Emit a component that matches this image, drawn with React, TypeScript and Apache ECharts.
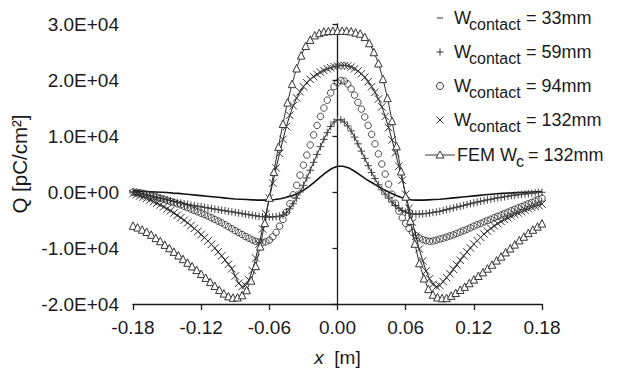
import React, { useEffect, useRef } from 'react';
import * as echarts from 'echarts';

// x positions: series sampled from X_START with a fixed step
const X_START = -0.18;
const DENSE_STEP = 0.003; // +, o, x series
const FEM_STEP = 0.004; // FEM triangles
const LINE_STEP = 0.005; // 33mm dash series

const X_MIN = -0.18;
const X_MAX = 0.18;
const X_INTERVAL = 0.06;
const Y_MIN = -20000;
const Y_MAX = 30000;
const Y_INTERVAL = 10000;

const W33 = [
  200, 150, 100, 50, 0, -50, -100, -200, -250, -350, -450, -550, -650, -750, -850, -950, -1050, -1150,
  -1250, -1300, -1350, -1400, -1450, -1450, -1450, -1350, -1200, -950, -650, -250, 300, 1000, 1800, 2700,
  3500, 4200, 4600, 4600, 4300, 3700, 3000, 2300, 1700, 1100, 500, 0, -500, -900, -1200, -1400, -1450,
  -1450, -1400, -1350, -1300, -1200, -1100, -1000, -900, -800, -700, -600, -500, -400, -300, -250, -200,
  -150, -100, -50, 0, 50, 100,
];

const W59 = [
  0, -100, -200, -350, -500, -650, -800, -950, -1100, -1250, -1400, -1550, -1700, -1850, -1950, -2100,
  -2200, -2350, -2450, -2550, -2650, -2750, -2850, -2950, -3050, -3150, -3250, -3350, -3450, -3550, -3650,
  -3750, -3850, -3950, -4050, -4150, -4250, -4350, -4400, -4450, -4450, -4450, -4400, -4300, -4100, -3700,
  -3000, -2100, -1100, 0, 1200, 2500, 3900, 5300, 6700, 8100, 9400, 10600, 11700, 12500, 12900, 12900,
  12500, 11800, 10900, 9800, 8600, 7300, 6000, 4700, 3500, 2400, 1300, 400, -400, -1100, -1800, -2400,
  -2900, -3300, -3600, -3800, -3900, -3950, -3950, -3900, -3850, -3750, -3650, -3550, -3450, -3300, -3150,
  -3000, -2850, -2700, -2550, -2400, -2250, -2100, -1950, -1800, -1650, -1550, -1400, -1300, -1150, -1050,
  -950, -850, -750, -650, -550, -500, -400, -350, -300, -200, -150, -100, -50,
];

const W94 = [
  0, -50, -150, -250, -400, -550, -700, -900, -1100, -1300, -1500, -1700, -1900, -2100, -2300, -2550,
  -2800, -3050, -3300, -3550, -3800, -4050, -4300, -4600, -4900, -5200, -5500, -5850, -6200, -6550, -6900,
  -7250, -7600, -7950, -8250, -8550, -8800, -8950, -9000, -8900, -8600, -8000, -7200, -6100, -4900, -3600,
  -2100, -500, 1200, 3000, 4800, 6600, 8400, 10200, 11900, 13500, 15000, 16400, 17700, 18800, 19500, 19900,
  19800, 19300, 18400, 17300, 16000, 14800, 13400, 11900, 10300, 8600, 6800, 5000, 3200, 1400, -400, -2000,
  -3400, -4600, -5600, -6500, -7200, -7800, -8200, -8500, -8700, -8800, -8750, -8600, -8400, -8250, -8050,
  -7850, -7650, -7400, -7150, -6900, -6650, -6400, -6100, -5850, -5600, -5350, -5100, -4850, -4600, -4350,
  -4100, -3850, -3600, -3350, -3100, -2850, -2600, -2350, -2100, -1850, -1600, -1350, -1100,
];

const W132 = [
  -300, -500, -700, -900, -1150, -1400, -1700, -2000, -2300, -2650, -3000, -3350, -3750, -4150, -4600,
  -5050, -5500, -6000, -6500, -7050, -7600, -8150, -8750, -9350, -10000, -10700, -11400, -12150, -12900,
  -13700, -15000, -16300, -16900, -16700, -15700, -14000, -11800, -9300, -6600, -3900, -1100, 1600, 4300,
  6900, 9400, 11700, 13700, 15400, 16800, 17900, 18800, 19500, 20100, 20600, 21000, 21400, 21700, 22000,
  22200, 22400, 22500, 22600, 22600, 22500, 22300, 22000, 21600, 21100, 20500, 19700, 18800, 17800, 16600,
  15200, 13500, 11500, 9300, 7000, 4600, 2100, -400, -2900, -5400, -7900, -10200, -12300, -14100, -15500,
  -16500, -16900, -16700, -16000, -15300, -14600, -13800, -13000, -12200, -11400, -10700, -10000, -9300,
  -8700, -8100, -7500, -7000, -6500, -6050, -5650, -5250, -4900, -4600, -4300, -4000, -3750, -3500, -3250,
  -3000, -2750, -2550, -2350, -2150,
];

const FEM132 = [
  -6000, -6300, -6700, -7100, -7600, -8200, -8750, -9400, -10000, -10650, -11300, -11950, -12600, -13250,
  -13900, -14600, -15300, -16050, -16750, -17450, -18100, -18600, -18850, -18800, -18400, -17500, -15800,
  -13200, -9700, -5500, -1000, 3600, 8100, 12200, 16000, 19300, 22100, 24400, 26100, 27200, 28000, 28400,
  28650, 28750, 28800, 28800, 28800, 28800, 28700, 28500, 28300, 27700, 26600, 25000, 23000, 20200, 16800,
  12700, 8200, 3700, -800, -5100, -9200, -12700, -15400, -17300, -18300, -18800, -18950, -18900, -18500,
  -18000, -17450, -16900, -16250, -15600, -14950, -14300, -13650, -12950, -12200, -11500, -10750, -10050,
  -9350, -8600, -7950, -7300, -6700, -6150, -5600,
];

const LEGEND_VALUES = ['= 33mm', '= 59mm', '= 94mm', '= 132mm', '= 132mm'];

const FONT = '"Liberation Sans", Arial, Helvetica, sans-serif';
const INK = '#1a1a1a';

const toPairs = (vals: number[], step: number) =>
  vals.map((v, i) => [Number((X_START + i * step).toFixed(4)), v]);

const PLUS = 'path://M0,5L10,5M5,0L5,10';
const CROSS = 'path://M0,0L10,10M10,0L0,10';

export default function App() {
  const ref = useRef<HTMLDivElement>(null);
  useEffect(() => {
    if (!ref.current) return;
    const chart = echarts.init(ref.current, undefined, { renderer: 'svg' });

    const rowY = [18, 52, 86, 120, 155];
    const symX = 440;
    const graphics: any[] = [];
    const txt = (text: string, x: number, y: number, size: number) => ({
      type: 'text',
      x,
      y,
      silent: true,
      style: { text, fontSize: size, fontFamily: FONT, fill: INK, align: 'left', verticalAlign: 'middle' },
    });
    const ln = (x1: number, y1: number, x2: number, y2: number) => ({
      type: 'line',
      silent: true,
      shape: { x1, y1, x2, y2 },
      style: { stroke: '#333', lineWidth: 1 },
    });
    // row 1: dash
    graphics.push(ln(symX - 3, rowY[0], symX + 3, rowY[0]));
    // row 2: plus
    graphics.push(ln(symX - 3.5, rowY[1], symX + 3.5, rowY[1]));
    graphics.push(ln(symX, rowY[1] - 3.5, symX, rowY[1] + 3.5));
    // row 3: circle
    graphics.push({
      type: 'circle',
      silent: true,
      shape: { cx: symX, cy: rowY[2], r: 3.5 },
      style: { fill: 'none', stroke: '#333', lineWidth: 1 },
    });
    // row 4: cross
    graphics.push(ln(symX - 3.5, rowY[3] - 3.5, symX + 3.5, rowY[3] + 3.5));
    graphics.push(ln(symX - 3.5, rowY[3] + 3.5, symX + 3.5, rowY[3] - 3.5));
    // row 5: line with triangle
    graphics.push(ln(symX - 15, rowY[4], symX + 15, rowY[4]));
    graphics.push({
      type: 'polygon',
      silent: true,
      shape: { points: [[symX, rowY[4] - 4], [symX + 4, rowY[4] + 3], [symX - 4, rowY[4] + 3]] },
      style: { fill: '#fff', stroke: '#333', lineWidth: 1 },
    });
    for (let r = 0; r < 4; r++) {
      graphics.push(txt('W', 454, rowY[r], 18));
      graphics.push(txt('contact', 469, rowY[r] + 6, 16));
      graphics.push(txt(LEGEND_VALUES[r], 526, rowY[r], 18));
    }
    graphics.push(txt('FEM W', 457, rowY[4], 18));
    graphics.push(txt('c', 516, rowY[4] + 6, 16));
    graphics.push(txt(LEGEND_VALUES[4], 528, rowY[4], 18));

    const axisText = { fontSize: 19, fontFamily: FONT, color: INK };

    chart.setOption({
      animation: false,
      backgroundColor: '#fff',
      grid: { left: 133, right: 77, top: 24, bottom: 67, containLabel: false, outerBoundsMode: 'none' },
      xAxis: {
        type: 'value',
        min: X_MIN,
        max: X_MAX,
        interval: X_INTERVAL,
        name: '{i|x}  [m]',
        nameLocation: 'middle',
        nameGap: 44,
        nameTextStyle: {
          fontSize: 19,
          fontFamily: FONT,
          color: INK,
          rich: { i: { fontSize: 19, fontFamily: FONT, fontStyle: 'italic', color: INK } },
        },
        axisLine: { show: true, onZero: false, lineStyle: { color: INK, width: 1.3 } },
        axisTick: { show: true, inside: false, length: 6, lineStyle: { color: INK, width: 1.3 } },
        axisLabel: {
          ...axisText,
          margin: 14,
          formatter: (v: number) => (Math.abs(v) < 1e-9 ? '0.00' : v.toFixed(2)),
        },
        splitLine: { show: false },
      },
      yAxis: {
        type: 'value',
        min: Y_MIN,
        max: Y_MAX,
        interval: Y_INTERVAL,
        name: 'Q [pC/cm²]',
        nameLocation: 'middle',
        nameGap: 101,
        nameRotate: 90,
        nameTextStyle: { fontSize: 20.5, fontFamily: FONT, color: INK },
        axisLine: { show: true, lineStyle: { color: INK, width: 1.3 } },
        axisTick: { show: true, inside: false, length: 5, lineStyle: { color: INK, width: 1.3 } },
        axisLabel: {
          ...axisText,
          margin: 14,
          formatter: (v: number) => (v === 0 ? '0.0E+00' : (v / 10000).toFixed(1) + 'E+04'),
        },
        splitLine: { show: false },
      },
      graphic: graphics,
      series: [
        {
          name: 'W33',
          type: 'line',
          data: toPairs(W33, LINE_STEP),
          showSymbol: false,
          symbol: 'none',
          lineStyle: { color: '#111', width: 1.6 },
          z: 2,
        },
        {
          name: 'W59',
          type: 'line',
          data: toPairs(W59, DENSE_STEP),
          symbol: PLUS,
          symbolSize: 7.5,
          showAllSymbol: true,
          lineStyle: { color: '#222', width: 1 },
          itemStyle: { color: 'transparent', borderColor: '#444', borderWidth: 1 },
          z: 3,
        },
        {
          name: 'W94',
          type: 'scatter',
          data: toPairs(W94, DENSE_STEP),
          symbol: 'circle',
          symbolSize: 6.5,
          itemStyle: { color: 'transparent', borderColor: '#222', borderWidth: 1 },
          z: 4,
        },
        {
          name: 'W132',
          type: 'line',
          data: toPairs(W132, DENSE_STEP),
          symbol: CROSS,
          symbolSize: 7.5,
          showAllSymbol: true,
          lineStyle: { color: '#222', width: 1 },
          itemStyle: { color: 'transparent', borderColor: '#333', borderWidth: 1 },
          z: 5,
        },
        {
          name: 'FEM',
          type: 'line',
          data: toPairs(FEM132, FEM_STEP),
          symbol: 'triangle',
          symbolSize: 7.5,
          showAllSymbol: true,
          lineStyle: { color: '#333', width: 1 },
          itemStyle: { color: '#fff', borderColor: '#333', borderWidth: 1 },
          z: 6,
        },
      ],
    });
    return () => chart.dispose();
  }, []);
  return <div ref={ref} style={{ width: 619, height: 371, position: 'absolute', left: 0, top: 0 }} />;
}
